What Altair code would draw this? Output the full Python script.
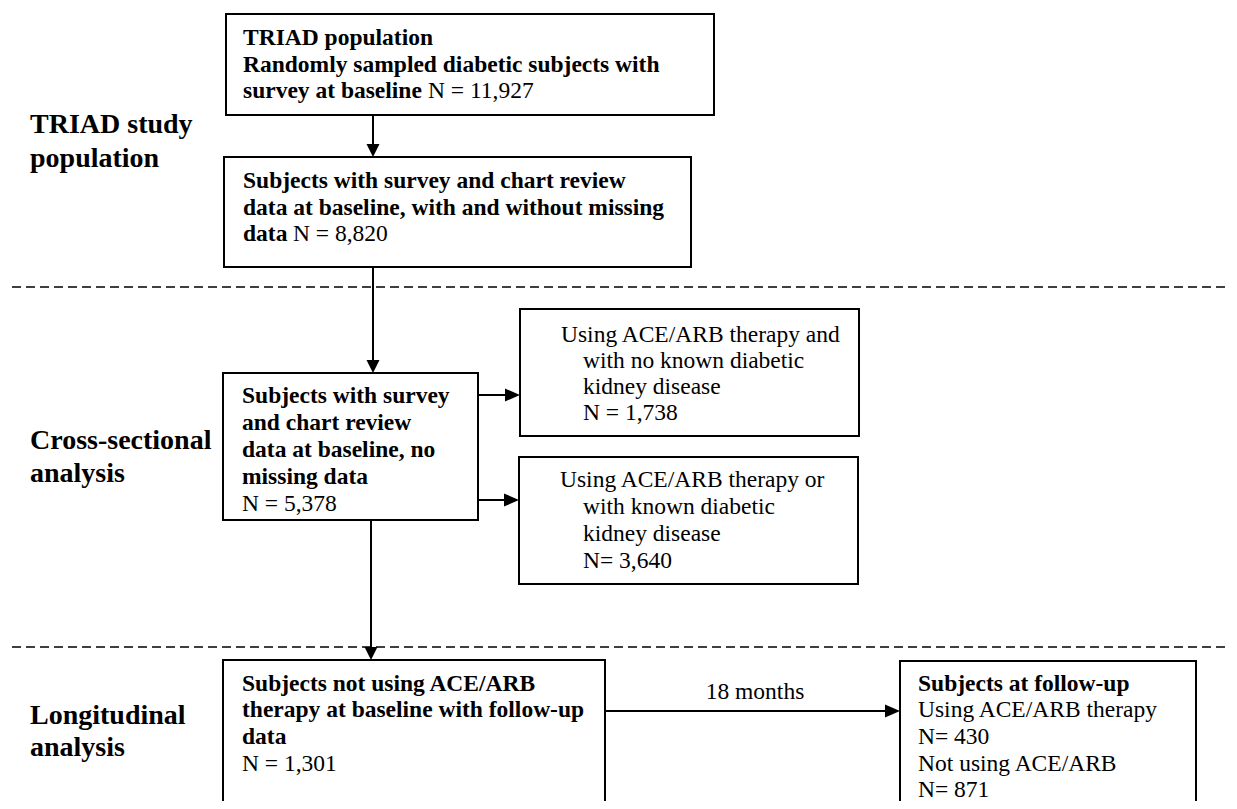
import altair as alt
import pandas as pd

# ---- content (text values) ----
stage_labels = ["TRIAD study", "population", "Cross-sectional", "analysis", "Longitudinal", "analysis"]
n_counts = ["N = 11,927", "N = 8,820", "N = 5,378", "N = 1,738", "N= 3,640", "N = 1,301", "N= 430", "N= 871"]
box1_lines = ["TRIAD population", "Randomly sampled diabetic subjects with", "survey at baseline"]
box2_lines = ["Subjects with survey and chart review", "data at baseline, with and without missing", "data"]
box3_lines = ["Subjects with survey", "and chart review", "data at baseline, no", "missing data"]
box4_lines = ["Using ACE/ARB therapy and", "with no known diabetic", "kidney disease"]
box5_lines = ["Using ACE/ARB therapy or", "with known diabetic", "kidney disease"]
box6_lines = ["Subjects not using ACE/ARB", "therapy at baseline with follow-up", "data"]
box7_lines = ["Subjects at follow-up", "Using ACE/ARB therapy", "Not using ACE/ARB"]
interval_label = "18 months"

# ---- layout ----
FONT = "Liberation Serif"
boxes = pd.DataFrame({
    "x1": [226, 224, 223, 520, 519, 223, 900],
    "y1": [14, 157, 373, 309, 457, 660, 661],
    "x2": [714, 691, 478, 859, 858, 605, 1196],
    "y2": [115, 267, 520, 436, 584, 840, 840],
})

bold_rows = []
norm_rows = []
def add(rows, x, y, t):
    rows.append({"x": x, "y": y, "t": t})

# box 1
for t, y in zip(box1_lines, [45, 72, 98]):
    add(bold_rows, 243, y, t)
add(norm_rows, 428, 98, n_counts[0])
# box 2
for t, y in zip(box2_lines, [188, 215, 241]):
    add(bold_rows, 243, y, t)
add(norm_rows, 293, 241, n_counts[1])
# box 3
for t, y in zip(box3_lines, [403, 430, 457, 484]):
    add(bold_rows, 242, y, t)
add(norm_rows, 242, 511, n_counts[2])
# box 4
for t, (x, y) in zip(box4_lines, [(561, 342), (583, 368), (583, 394)]):
    add(norm_rows, x, y, t)
add(norm_rows, 583, 420, n_counts[3])
# box 5
for t, (x, y) in zip(box5_lines, [(560, 487), (583, 514), (583, 541)]):
    add(norm_rows, x, y, t)
add(norm_rows, 583, 568, n_counts[4])
# box 6
for t, y in zip(box6_lines, [691, 717, 744]):
    add(bold_rows, 242, y, t)
add(norm_rows, 242, 771, n_counts[5])
# box 7
add(bold_rows, 918, 691, box7_lines[0])
add(norm_rows, 918, 717, box7_lines[1])
add(norm_rows, 918, 744, n_counts[6])
add(norm_rows, 918, 771, box7_lines[2])
add(norm_rows, 918, 797, n_counts[7])

bold_df = pd.DataFrame(bold_rows)
norm_df = pd.DataFrame(norm_rows)

label_df = pd.DataFrame({
    "x": [30] * 6,
    "y": [133, 167, 449, 482, 724, 756],
    "t": stage_labels,
})
months_df = pd.DataFrame({"x": [755], "y": [699], "t": [interval_label]})

dashed = pd.DataFrame({"x1": [12, 12], "x2": [1245, 1245], "y1": [287, 647], "y2": [287, 647]})

# connector lines (shaft)
shafts = pd.DataFrame({
    "x1": [373, 373, 371, 478, 478, 605],
    "y1": [115, 267, 520, 395, 500, 711],
    "x2": [373, 373, 371, 510, 509, 890],
    "y2": [150, 366, 653, 395, 500, 711],
})
down_heads = pd.DataFrame({"x": [373, 373, 371], "y": [150.5, 366.5, 653.5]})
right_heads = pd.DataFrame({"x": [512.5, 511.5, 892.5], "y": [395, 500, 711]})

xs = alt.Scale(domain=[8, 1229], nice=False, zero=False)
ys = alt.Scale(domain=[8, 801], nice=False, zero=False, reverse=True)

def X(f="x"):
    return alt.X(f"{f}:Q", scale=xs, axis=None)

def Y(f="y"):
    return alt.Y(f"{f}:Q", scale=ys, axis=None)

rects = alt.Chart(boxes).mark_rect(fillOpacity=0, stroke="black", strokeWidth=2).encode(
    x=X("x1"), x2="x2:Q", y=Y("y1"), y2="y2:Q")

dash_layer = alt.Chart(dashed).mark_rule(stroke="black", strokeWidth=1.5, strokeDash=[9, 5]).encode(
    x=X("x1"), x2="x2:Q", y=Y("y1"), y2="y2:Q")

shaft_layer = alt.Chart(shafts).mark_rule(stroke="black", strokeWidth=2).encode(
    x=X("x1"), x2="x2:Q", y=Y("y1"), y2="y2:Q")

down_layer = alt.Chart(down_heads).mark_point(
    shape="M-1,-1L1,-1L0,1Z", filled=True, color="black", opacity=1, size=169, strokeWidth=0
).encode(x=X(), y=Y())

right_layer = alt.Chart(right_heads).mark_point(
    shape="M-1,-0.87L1,0L-1,0.87Z", filled=True, color="black", opacity=1, size=225, strokeWidth=0
).encode(x=X(), y=Y())

bold_text = alt.Chart(bold_df).mark_text(
    font=FONT, fontSize=23.5, fontWeight="bold", align="left", baseline="alphabetic", color="black"
).encode(x=X(), y=Y(), text="t:N")

norm_text = alt.Chart(norm_df).mark_text(
    font=FONT, fontSize=23.5, fontWeight="normal", align="left", baseline="alphabetic", color="black"
).encode(x=X(), y=Y(), text="t:N")

label_text = alt.Chart(label_df).mark_text(
    font=FONT, fontSize=28, fontWeight="bold", align="left", baseline="alphabetic", color="black"
).encode(x=X(), y=Y(), text="t:N")

months_text = alt.Chart(months_df).mark_text(
    font=FONT, fontSize=23.5, fontWeight="normal", align="center", baseline="alphabetic", color="black"
).encode(x=X(), y=Y(), text="t:N")

chart = alt.layer(
    rects, dash_layer, shaft_layer, down_layer, right_layer,
    bold_text, norm_text, label_text, months_text
).properties(
    width=1221, height=793, padding=0, autosize=alt.AutoSizeParams(type="none"),
    background="white"
).configure_view(stroke=None)

chart.save("out.html", embed_options={"renderer": "svg", "actions": False})
